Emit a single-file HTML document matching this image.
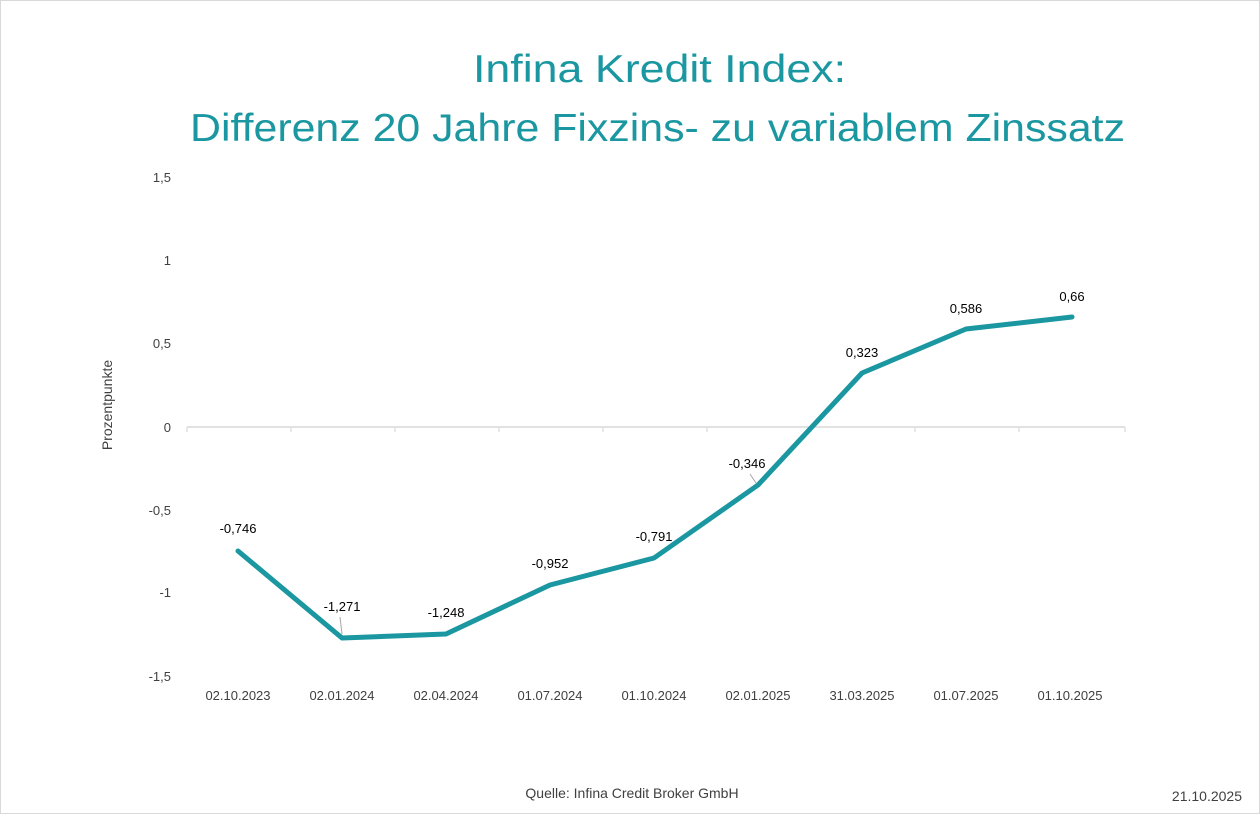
<!DOCTYPE html>
<html><head><meta charset="utf-8"><style>
html,body{margin:0;padding:0;background:#fff;}
svg{display:block;font-family:"Liberation Sans",sans-serif;}
</style></head><body>
<svg width="1260" height="814" viewBox="0 0 1260 814" xmlns="http://www.w3.org/2000/svg">
<rect x="0.5" y="0.5" width="1259" height="813" fill="#fff" stroke="#d9d9d9"/>
<g fill="#1a97a0" font-size="39">
<text x="473" y="82" textLength="373" lengthAdjust="spacingAndGlyphs">Infina Kredit Index:</text>
<text x="190" y="141" textLength="935" lengthAdjust="spacingAndGlyphs">Differenz 20 Jahre Fixzins- zu variablem Zinssatz</text>
</g>
<g font-size="13" fill="#404040" text-anchor="end">
<text x="171" y="182">1,5</text>
<text x="171" y="265">1</text>
<text x="171" y="348">0,5</text>
<text x="171" y="432">0</text>
<text x="171" y="515">-0,5</text>
<text x="171" y="597">-1</text>
<text x="171" y="681">-1,5</text>
</g>
<text x="112" y="405" font-size="14" fill="#404040" text-anchor="middle" transform="rotate(-90 112 405)">Prozentpunkte</text>
<line x1="187" y1="427" x2="1125" y2="427" stroke="#d9d9d9" stroke-width="1.5"/>
<g stroke="#d9d9d9" stroke-width="1.2">
<line x1="187" y1="427" x2="187" y2="432"/><line x1="291" y1="427" x2="291" y2="432"/><line x1="395" y1="427" x2="395" y2="432"/><line x1="499" y1="427" x2="499" y2="432"/><line x1="603" y1="427" x2="603" y2="432"/><line x1="707" y1="427" x2="707" y2="432"/><line x1="811" y1="427" x2="811" y2="432"/><line x1="915" y1="427" x2="915" y2="432"/><line x1="1019" y1="427" x2="1019" y2="432"/><line x1="1125" y1="427" x2="1125" y2="432"/>
</g>
<g font-size="13" fill="#404040" text-anchor="middle">
<text x="238" y="700">02.10.2023</text><text x="342" y="700">02.01.2024</text><text x="446" y="700">02.04.2024</text><text x="550" y="700">01.07.2024</text><text x="654" y="700">01.10.2024</text><text x="758" y="700">02.01.2025</text><text x="862" y="700">31.03.2025</text><text x="966" y="700">01.07.2025</text><text x="1070" y="700">01.10.2025</text>
</g>
<polyline fill="none" stroke="#1a97a0" stroke-width="5" stroke-linejoin="round" stroke-linecap="round"
points="238,551 342,638 446,634 550,585 654,558 758,485 862,373 966,329 1072,317"/>
<g stroke="#a6a6a6" stroke-width="1">
<line x1="340" y1="617" x2="342" y2="634"/>
<line x1="750" y1="474" x2="756" y2="483"/>
</g>
<g font-size="13" fill="#000" text-anchor="middle">
<text x="238" y="533">-0,746</text>
<text x="342" y="611">-1,271</text>
<text x="446" y="617">-1,248</text>
<text x="550" y="568">-0,952</text>
<text x="654" y="541">-0,791</text>
<text x="747" y="468">-0,346</text>
<text x="862" y="357">0,323</text>
<text x="966" y="313">0,586</text>
<text x="1072" y="301">0,66</text>
</g>
<text x="632" y="798" font-size="14" fill="#404040" text-anchor="middle">Quelle: Infina Credit Broker GmbH</text>
<text x="1242" y="801" font-size="14" fill="#404040" text-anchor="end">21.10.2025</text>
</svg>
</body></html>
